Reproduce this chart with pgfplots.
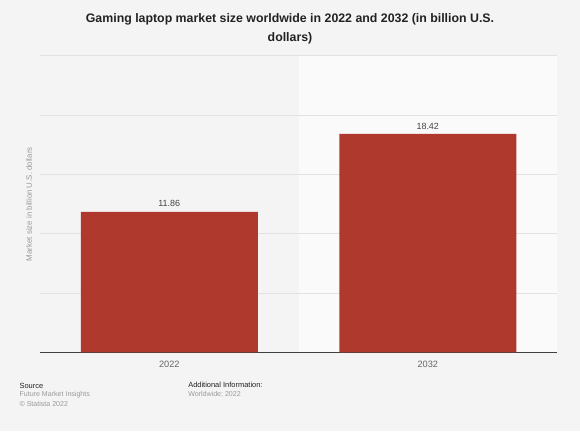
\documentclass[border=0pt]{standalone}
\usepackage{pgfplots}
\pgfplotsset{compat=1.18}
\usepackage{fontspec}
\setmainfont{Liberation Sans}
\definecolor{bg}{HTML}{F4F4F4}
\definecolor{band}{HTML}{FAFAFA}
\definecolor{barred}{HTML}{AF392D}
\definecolor{gridc}{HTML}{E2E2E2}
\definecolor{txtdark}{HTML}{222222}
\definecolor{txtgray}{HTML}{666666}
\definecolor{txtlight}{HTML}{999999}
\begin{document}
\begin{tikzpicture}
\fill[bg] (0,0) rectangle (435pt,323.25pt);
\fill[band] (223.875pt,58.9pt) rectangle (417.75pt,281.3pt);
% title
\node[align=center, font=\bfseries\fontsize{9.26}{13.9}\selectfont, text=txtdark] at (217.5pt,301.5pt) {Gaming laptop market size worldwide in 2022 and 2032 (in billion U.S.\\dollars)};
\begin{axis}[
  at={(30pt,58.9pt)}, anchor=south west,
  scale only axis, width=387.75pt, height=222.4pt,
  xmin=-0.5, xmax=1.5, ymin=0, ymax=25,
  xtick=data, xticklabels={2022,2032},
  ytick={0,5,10,15,20,25}, yticklabels={},
  ymajorgrids, grid style={gridc, line width=0.75pt},
  axis x line*=bottom, axis y line*=left,
  x axis line style={draw=black!75, line width=0.9pt, -},
  y axis line style={draw=none},
  xtick style={draw=none}, ytick style={draw=none}, major tick length=0pt,
  xticklabel style={font=\fontsize{6.9}{8}\selectfont, text=txtgray, yshift=-3pt},
  ylabel={Market size in billion U.S. dollars},
  ylabel style={at={(axis description cs:0,0.5)}, anchor=center, yshift=8.2pt, font=\fontsize{5.9}{7}\selectfont, text=txtlight},
  ybar, bar width=132.75pt,
  nodes near coords, nodes near coords style={font=\fontsize{6.7}{8}\selectfont, text=txtdark!85, yshift=0pt},
  point meta=explicit symbolic,
]
\addplot[fill=barred, draw=none] coordinates {(0,11.86) [11.86] (1,18.42) [18.42]};
\end{axis}
% footer
\begin{scope}[every node/.style={anchor=west, inner sep=0pt}]
\node[font=\fontsize{5.6}{7}\selectfont, text=txtdark] at (14.5pt,33.75pt) {Source};
\node[font=\fontsize{5.3}{7}\selectfont, text=txtlight] at (14.5pt,27.0pt) {Future Market Insights};
\node[font=\fontsize{5.3}{7}\selectfont, text=txtlight] at (14.5pt,20.0pt) {© Statista 2022};
\node[font=\fontsize{5.6}{7}\selectfont, text=txtdark] at (141pt,34.5pt) {Additional Information:};
\node[font=\fontsize{5.3}{7}\selectfont, text=txtlight] at (141pt,27.2pt) {Worldwide; 2022};
\end{scope}
\end{tikzpicture}
\end{document}
